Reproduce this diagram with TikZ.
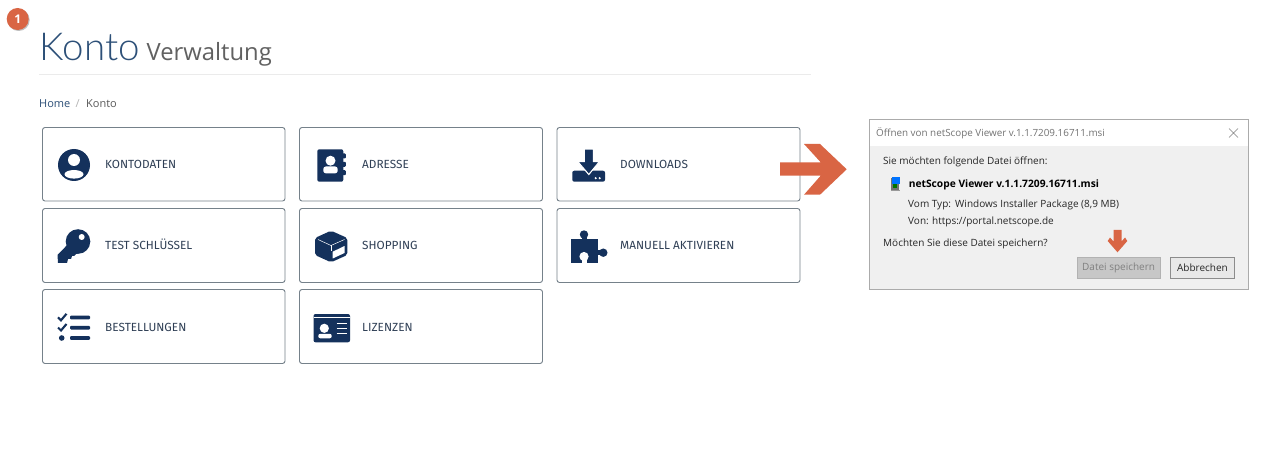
\documentclass[tikz,border=0pt]{standalone}
\usepackage{fontspec}
\setmainfont{Open Sans}
\newfontfamily\headf{Lato Light}
\newfontfamily\subf{Open Sans}
\newfontfamily\labf{Fira Sans}
\definecolor{navy}{HTML}{14315C}
\definecolor{orange}{HTML}{D96544}
\definecolor{cardline}{HTML}{75818A}
\definecolor{labelc}{HTML}{2F3F55}
\definecolor{dlgbg}{HTML}{F0F0F0}
\definecolor{dlgline}{HTML}{ABABAB}
\definecolor{headblue}{HTML}{2D5078}
\tikzset{
  x=1pt,y=-1pt,
  card/.style={draw=cardline,line width=0.9pt,rounded corners=2.5pt,fill=white},
  cardlabel/.style={anchor=base west,inner sep=0pt,font=\labf\fontsize{11.8}{13}\selectfont,text=labelc},
  dlgtext/.style={anchor=base west,inner sep=0pt,font=\fontsize{10}{12}\selectfont,text=black!85},
  dlgbtn/.style={draw=#1,line width=0.8pt,inner sep=0pt,anchor=north west},
  ico/.style={fill=navy,draw=none},
  wht/.style={fill=white,draw=none},
}
\begin{document}
\begin{tikzpicture}
\useasboundingbox (0,0) rectangle (1272,465);
\fill[white] (0,0) rectangle (1272,465);
% badge
\fill[black!25] (18.7,20) circle (11);
\node[circle,fill=orange,minimum size=22pt,inner sep=0pt,text=white,font=\bfseries\fontsize{12}{12}\selectfont] (badge) at (17.7,19) {1};
% heading
\node[anchor=base west,inner sep=0pt,text=headblue,font=\headf\fontsize{38.5}{44}\selectfont] (konto) at (39.5,60.5) {Konto};
\node[anchor=base west,inner sep=0pt,text=black!62,font=\subf\fontsize{23.8}{26}\selectfont] (verw) at (146.5,60.5) {Verwaltung};
\draw[black!8,line width=0.8pt] (39,74.5) -- (811,74.5);
\node[anchor=base west,inner sep=0pt,text=headblue,font=\fontsize{11}{13}\selectfont] (home) at (39,107.5) {Home};
\node[anchor=base west,inner sep=0pt,text=black!30,font=\fontsize{11}{13}\selectfont] (sl) at (75.5,107.5) {/};
\node[anchor=base west,inner sep=0pt,text=black!65,font=\fontsize{11}{13}\selectfont] (bk) at (86,107.5) {Konto};
% cards
\draw[card] (42.5,127.5) rectangle (285,201);
\draw[card] (299.5,127.5) rectangle (542.5,201);
\draw[card] (557,127.5) rectangle (800,201);
\draw[card] (42.5,208.5) rectangle (285,282.5);
\draw[card] (299.5,208.5) rectangle (542.5,282.5);
\draw[card] (557,208.5) rectangle (800,282.5);
\draw[card] (42.5,289.5) rectangle (285,363.5);
\draw[card] (299.5,289.5) rectangle (542.5,363.5);
% labels
\node[cardlabel] (l1) at (105,168.5) {KONTODATEN};
\node[cardlabel] (l2) at (362,168.5) {ADRESSE};
\node[cardlabel] (l3) at (620,168.5) {DOWNLOADS};
\node[cardlabel] (l4) at (105,249.5) {TEST SCHLÜSSEL};
\node[cardlabel] (l5) at (362,249.5) {SHOPPING};
\node[cardlabel] (l6) at (620,249.5) {MANUELL AKTIVIEREN};
\node[cardlabel] (l7) at (105,331) {BESTELLUNGEN};
\node[cardlabel] (l8) at (362,331) {LIZENZEN};
% icon: person
\fill[ico] (74,165) circle (16);
\fill[wht] (74,160) circle (6);
\fill[wht] (74,174.3) ellipse (9.5 and 4.3);
% icon: key
\fill[ico] (78,241.5) circle (12.3);
\fill[ico] (72,240) -- (84,252) -- (76,254) -- (74,256) -- (72,256) -- (71,259) -- (68,259) -- (67,263) -- (58,263) -- (57.5,255) -- cycle;
\fill[wht] (81.7,237) circle (3);
% icon: checklist
\foreach \yy in {317.5,327.7,338} \fill[ico,rounded corners=1pt] (70,\yy-1.8) rectangle (90,\yy+1.8);
\foreach \yy in {317.3,327.5} \draw[navy,line width=2.1pt] (58,\yy) -- (61,\yy+3) -- (66.5,\yy-3.5);
\fill[ico] (61.7,338) circle (2.8);
% icon: address book
\fill[ico,rounded corners=2pt] (317.3,149.3) rectangle (343.3,181.7);
\foreach \yy in {156,164.3,172.7} \fill[ico,rounded corners=1pt] (342,\yy-2.5) rectangle (345.8,\yy+2.5);
\fill[wht] (330.5,160.7) circle (5);
\fill[wht,rounded corners=2.5pt] (323.3,173.3) -- (323.3,166.5) -- (337.7,166.5) -- (337.7,173.3) -- cycle;
% icon: box
\fill[ico,rounded corners=2pt] (331,230.7) -- (347.3,238) -- (347.3,255) -- (331,262.3) -- (315,255) -- (315,238) -- cycle;
\fill[wht] (332.7,251.7) -- (344.5,246) -- (344.5,253) -- (332.7,258.5) -- cycle;
\draw[white,line width=0.5pt] (318,239.5) -- (331,245.5) -- (344.5,239.5);
\draw[white,line width=0.5pt] (331,245.5) -- (331,251);
% icon: licence
\fill[ico,rounded corners=2pt] (313.5,314) rectangle (350,342.3);
\draw[white,line width=0.9pt] (313.5,317.7) -- (350,317.7);
\fill[wht] (324.3,328.3) circle (4.6);
\fill[wht,rounded corners=2pt] (318.3,338.3) -- (318.3,333.8) -- (331.7,333.8) -- (331.7,338.3) -- cycle;
\foreach \yy in {323.3,328.3,333.3} \draw[white,line width=1.4pt] (336.7,\yy) -- (346.7,\yy);
% icon: download
\fill[ico,rounded corners=2pt] (572.3,170.7) rectangle (605,181.7);
\fill[ico,draw=white,line width=1.1pt] (584.3,149) -- (593.3,149) -- (593.3,161.5) -- (599.5,161.5) -- (588.8,174.5) -- (577.7,161.5) -- (584.3,161.5) -- cycle;
\fill[white] (583.5,148) rectangle (594,149);
\fill[wht] (595.7,178.2) circle (1.2) (599.7,178.2) circle (1.2);
% icon: puzzle
\fill[ico] (571,239) -- (598.3,239) -- (598.3,262.7) -- (571,262.7) -- cycle;
\fill[ico] (584,234.5) circle (4.2);
\fill[ico] (581.5,236) rectangle (586.5,240);
\fill[ico] (603.3,252.7) circle (4.2);
\fill[ico] (597,250.5) rectangle (602,255);
\fill[wht] (584,256.5) circle (4.6);
\fill[wht] (581.5,257) rectangle (586.5,263);
% big arrow
\fill[orange] (780,162.3) -- (820.7,162.3) -- (804,144) -- (820,144) -- (846.7,169.3) -- (820,194.7) -- (804,194.7) -- (820.7,175.7) -- (780,175.7) -- cycle;
% dialog
\fill[dlgbg] (869.7,119.7) rectangle (1248.3,289.3);
\fill[white] (869.7,119.7) rectangle (1248.3,146);
\draw[dlgline,line width=0.9pt] (869.7,119.7) rectangle (1248.3,289.3);
\node[dlgtext,text=black!55,font=\fontsize{9.85}{12}\selectfont] (t0) at (876,136.5) {Öffnen von netScope Viewer v.1.1.7209.16711.msi};
\draw[black!50,line width=0.6pt] (1229,128.5) -- (1238,137.5) (1238,128.5) -- (1229,137.5);
\node[dlgtext] (t1) at (883,165) {Sie möchten folgende Datei öffnen:};
% msi icon
\fill[black!55] (890.5,178.5) rectangle (899,190);
\fill[blue!55!cyan] (892,177) rectangle (900,184);
\fill[green!45!black] (893,184) rectangle (897,188);
\draw[black!40,line width=0.5pt] (891,190) -- (900,190);
\node[dlgtext,font=\bfseries\fontsize{10.25}{12}\selectfont,text=black] (t2) at (908.6,188) {netScope Viewer v.1.1.7209.16711.msi};
\node[dlgtext] (t3) at (908,208) {Vom Typ:};
\node[dlgtext] (t4) at (955,208) {Windows Installer Package (8,9 MB)};
\node[dlgtext] (t5) at (908,225) {Von:};
\node[dlgtext] (t6) at (932,225) {https://portal.netscope.de};
\node[dlgtext] (t7) at (883,247) {Möchten Sie diese Datei speichern?};
\node[dlgbtn=black!30,fill=black!22,minimum width=83pt,minimum height=20.7pt,text=black!50,font=\fontsize{10}{12}\selectfont] (b1) at (1076.7,257.3) {Datei speichern};
\node[dlgbtn=black!45,fill=black!9,minimum width=64pt,minimum height=20.7pt,text=black!85,font=\fontsize{10}{12}\selectfont] (b2) at (1170,257.3) {Abbrechen};
% small arrow
\fill[orange] (1113.5,230) -- (1121.5,230) -- (1121.5,241.5) -- (1125,237.5) -- (1127.3,241) -- (1117.5,252.3) -- (1107.7,241) -- (1110,237.5) -- (1113.5,241.5) -- cycle;
\end{tikzpicture}
\end{document}
